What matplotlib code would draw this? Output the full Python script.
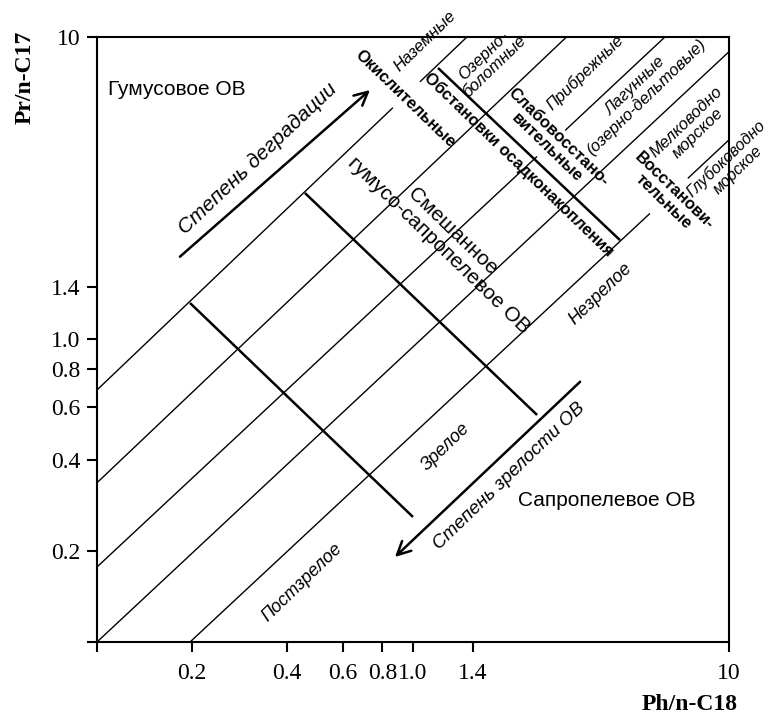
import matplotlib.pyplot as plt
from matplotlib.ticker import FixedLocator, FixedFormatter, NullLocator

plt.rcParams['font.family'] = ['Liberation Sans', 'DejaVu Sans']

# линии, разделяющие обстановки осадконакопления (x - Ph/n-C18, y - Pr/n-C17)
env_x = [(0.1, 0.864), (1.052, 1.482), (0.1, 3.06), (0.1, 2.47), (3.03, 6.27),
         (0.1, 10.0), (0.197, 5.62), (7.41, 10.0)]
env_y = [(0.681, 5.84), (7.11, 10.0), (0.336, 10.0), (0.177, 4.03), (4.91, 10.0),
         (0.1, 8.94), (0.1, 2.61), (3.41, 4.57)]

# границы по степени зрелости
mat_x = [(1.20, 4.52), (0.455, 2.47), (0.197, 1.0)]
mat_y = [(7.90, 2.13), (3.05, 0.563), (1.32, 0.259)]

# стрелки
degr_from, degr_to = (0.183, 1.878), (0.731, 6.68)
matur_from, matur_to = (3.38, 0.725), (0.877, 0.191)

# подписи осей
xtick_pos = [0.1, 0.2, 0.4, 0.6, 0.8, 1.0, 1.55, 10]
xtick_lab = ['', '0.2', '0.4', '0.6', '0.8', '1.0', '1.4', '10']
ytick_pos = [0.1, 0.2, 0.4, 0.6, 0.8, 1.0, 1.49, 10]
ytick_lab = ['', '0.2', '0.4', '0.6', '0.8', '1.0', '1.4', '10']

fig = plt.figure(figsize=(7.71, 7.17), dpi=100)
ax = fig.add_axes([0.1258, 0.1046, 0.8197, 0.8438])
ax.set_xscale('log')
ax.set_yscale('log')
ax.set_xlim(0.1, 10)
ax.set_ylim(0.1, 10)

for xs, ys in zip(env_x, env_y):
    ax.plot(xs, ys, color='black', lw=1.0, solid_capstyle='butt')
for xs, ys in zip(mat_x, mat_y):
    ax.plot(xs, ys, color='black', lw=1.8, solid_capstyle='butt')

arr = dict(arrowstyle='->', lw=1.8, color='black', mutation_scale=24,
           shrinkA=0, shrinkB=0)
ax.annotate('', xy=degr_to, xytext=degr_from, arrowprops=arr)
ax.annotate('', xy=matur_to, xytext=matur_from, arrowprops=arr)

# оформление осей
for s in ax.spines.values():
    s.set_linewidth(1.5)
ax.xaxis.set_major_locator(FixedLocator(xtick_pos))
ax.xaxis.set_major_formatter(FixedFormatter(xtick_lab))
ax.yaxis.set_major_locator(FixedLocator(ytick_pos))
ax.yaxis.set_major_formatter(FixedFormatter(ytick_lab))
ax.xaxis.set_minor_locator(NullLocator())
ax.yaxis.set_minor_locator(NullLocator())
ax.tick_params(direction='out', length=7, width=1.5, labelsize=17)
ax.tick_params(axis='x', pad=8)
ax.tick_params(axis='y', pad=5)
for lab in ax.get_xticklabels() + ax.get_yticklabels():
    lab.set_fontfamily('Liberation Serif')

fig.text(25 / 771, 1 - 77 / 717, 'Pr/n-C17', rotation=90, ha='center', va='center',
         fontsize=17, fontweight='bold', family='Liberation Serif')
fig.text(690 / 771, 1 - 705 / 717, 'Ph/n-C18', ha='center', va='center',
         fontsize=17, fontweight='bold', family='Liberation Serif')

def label(x, y, s, rot=0, size=12, style='normal', weight='normal', ha='center'):
    ax.text(x, y, s, rotation=rot, rotation_mode='anchor', ha=ha, va='center',
            multialignment='center', fontsize=size, fontstyle=style,
            fontweight=weight, linespacing=1.05)

# типы органического вещества
label(0.108, 6.73, 'Гумусовое ОВ', size=15, ha='left')
label(2.15, 0.2946, 'Сапропелевое ОВ', size=15, ha='left')
label(1.272, 2.157, 'Смешанное\nгумусо-сапропелевое ОВ', rot=-44, size=15)

# стрелки
label(0.322, 3.95, 'Степень деградации', rot=43.5, size=15, style='italic')
label(2.01, 0.3524, 'Степень зрелости ОВ', rot=44, size=13.5, style='italic')

# окислительно-восстановительные условия
label(0.947, 6.24, 'Окислительные', rot=-44, weight='bold')
label(2.165, 3.78, 'Обстановки осадконакопления', rot=-44, weight='bold')
label(2.77, 4.48, 'Слабовосстано-\nвительные', rot=-44, weight='bold')
label(6.46, 2.97, 'Восстанови-\nтельные', rot=-44, weight='bold')

# обстановки
label(1.09, 9.70, 'Наземные', rot=44, style='italic')
label(1.74, 8.33, 'Озерно-\nболотные', rot=44, style='italic')
label(3.50, 7.63, 'Прибрежные', rot=44, style='italic')
label(5.27, 6.60, 'Лагунные\n(озерно-дельтовые)', rot=44, style='italic')
label(7.64, 5.02, 'Мелководно\nморское', rot=44, style='italic')
label(10.2, 3.80, 'Глубоководно\nморское', rot=44, size=11.5, style='italic')

# зрелость
label(3.91, 1.41, 'Незрелое', rot=44, size=13, style='italic')
label(1.27, 0.442, 'Зрелое', rot=44, size=13, style='italic')
label(0.447, 0.157, 'Постзрелое', rot=44, size=13, style='italic')

fig.savefig('out.png', dpi=100)
